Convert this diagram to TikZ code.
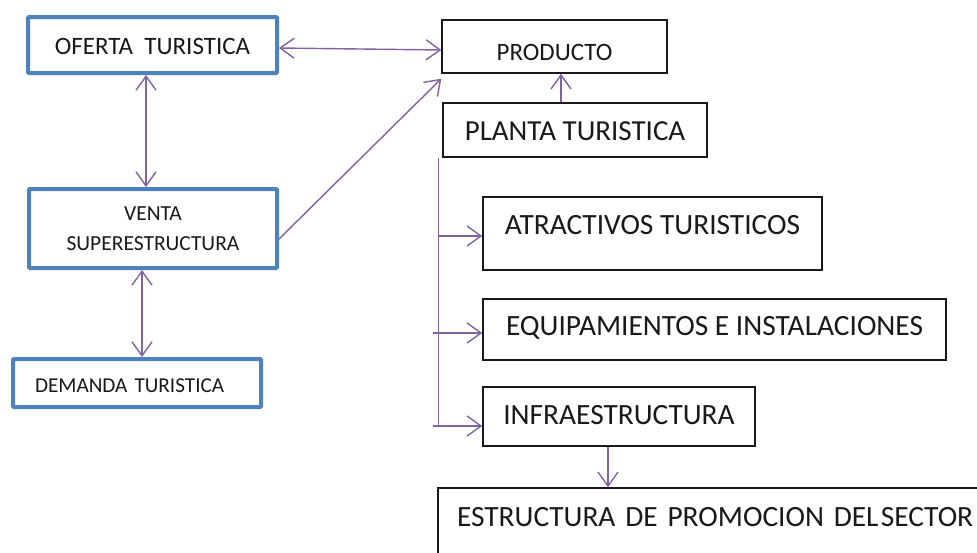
\documentclass[tikz,border=0pt]{standalone}
\usepackage{fontspec}
\setmainfont{Carlito}
\usetikzlibrary{arrows.meta}
\definecolor{oblue}{RGB}{79,129,189}
\definecolor{opurple}{RGB}{128,100,162}
\definecolor{ink}{RGB}{25,25,25}
\begin{document}
\begin{tikzpicture}[x=1pt,y=-1pt,
  bluebox/.style={draw=oblue, line width=4pt, fill=white, rounded corners=1pt, inner sep=0pt, text=ink},
  blackbox/.style={draw=ink, line width=1.5pt, fill=white, inner sep=0pt, text=ink},
  conn/.style={draw=opurple, line width=1.4pt},
  arr/.style={conn, -{Straight Barb[length=14pt,width=20pt,line width=1.4pt]}},
  barr/.style={conn, {Straight Barb[length=14pt,width=20pt,line width=1.4pt]}-{Straight Barb[length=14pt,width=20pt,line width=1.4pt]}},
  fs/.style={font=\fontsize{#1}{#1}\selectfont}]
\useasboundingbox (0,0) rectangle (977,552);
\clip (0,0) rectangle (977,552);
\fill[white] (0,0) rectangle (977,552);

% left column
\node[bluebox, minimum width=249pt, minimum height=56pt, fs=25, text height=19.8pt, text depth=0pt] (of) at (152.5,45) {OFERTA\ \ TURISTICA};
\node[bluebox, minimum width=248pt, minimum height=79pt, align=center, font=\fontsize{21.5}{29.5}\selectfont] (venta) at (153,228.5) {VENTA\\SUPERESTRUCTURA};
\node[bluebox, minimum width=248pt, minimum height=48pt, fs=21.2, text width=204pt, align=left, text height=18.4pt, text depth=0pt] (dem) at (137,383) {DEMANDA TURISTICA};

% right column
\node[blackbox, minimum width=225pt, minimum height=53pt, fs=25, text height=27.8pt, text depth=0pt] (prod) at (554.5,46.5) {PRODUCTO};
\node[blackbox, minimum width=264pt, minimum height=54pt, fs=29, text height=20.3pt, text depth=0pt] (planta) at (575,130) {PLANTA TURISTICA};
\node[blackbox, minimum width=339pt, minimum height=73pt, fs=29.4, text height=1.6pt, text depth=0pt] (atr) at (652.5,233.5) {ATRACTIVOS TURISTICOS};
\node[blackbox, minimum width=463pt, minimum height=61pt, fs=29.4, text height=11.6pt, text depth=0pt] (equip) at (714.5,329.5) {EQUIPAMIENTOS E INSTALACIONES};
\node[blackbox, minimum width=272pt, minimum height=59pt, fs=29.4, text height=15.6pt, text depth=0pt] (infra) at (619,416.5) {INFRAESTRUCTURA};
\node[blackbox, minimum width=562pt, minimum height=74pt, fs=29.4, text width=524pt, align=left, text height=3.6pt, text depth=0pt] (estr) at (719,525) {ESTRUCTURA DE PROMOCION DEL\hspace{0.08em}SECTOR};

% connectors
\draw[barr] ([yshift=-3pt]of.east) -- ([yshift=-3.5pt]prod.west);
\draw[barr] ([xshift=-6.5pt]of.south) -- ([xshift=-7pt]venta.north);
\draw[barr] ([xshift=-11pt]venta.south) -- ([xshift=5pt]dem.north);
\draw[arr] ([yshift=-10.5pt]venta.east) -- ([yshift=-5pt]prod.south west);

\coordinate (pp) at ([xshift=-14pt]planta.north);
\draw[arr] (pp) -- (pp |- prod.south);

\coordinate (tTop) at ([xshift=-4pt]planta.south west);
\coordinate (tL) at ([xshift=-5pt]tTop);
\coordinate (e1) at ([yshift=-2.5pt]atr.west);
\coordinate (e2) at ([yshift=-3.5pt]equip.west);
\coordinate (e3) at ([yshift=-9.5pt]infra.west);
\coordinate (tBot) at (tTop |- e3);
\draw[conn] (tTop) -- (tBot);
\draw[arr] (tTop |- e1) -- (e1);
\draw[arr] (tL |- e2) -- (e2);
\draw[arr] (tL |- e3) -- (e3);

\coordinate (d1) at ([xshift=-11pt]infra.south);
\draw[arr] (d1) -- (d1 |- estr.north);
\end{tikzpicture}
\end{document}
